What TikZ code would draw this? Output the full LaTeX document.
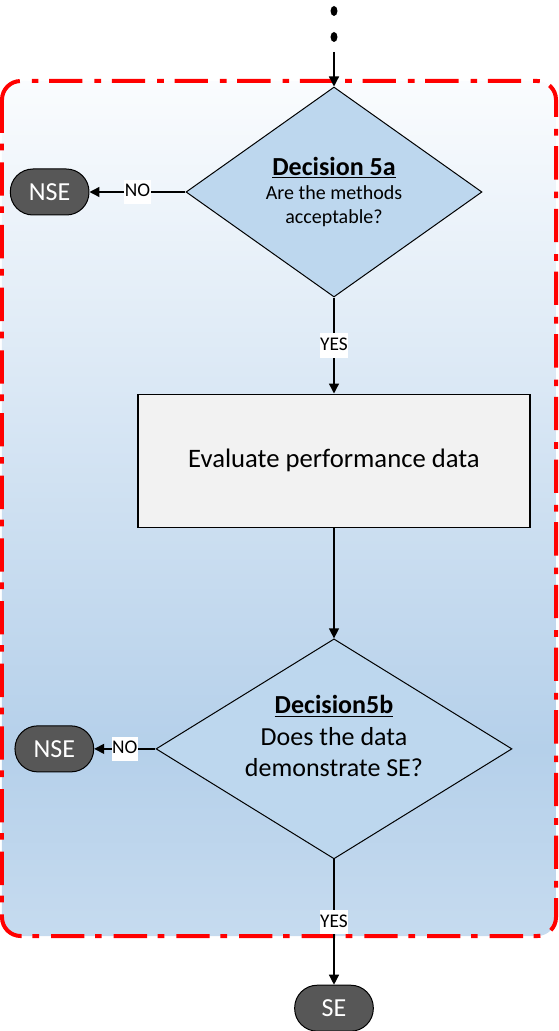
\documentclass[tikz,border=0pt]{standalone}
\usepackage{fontspec}
\setmainfont{Carlito}
\usetikzlibrary{shapes.geometric, arrows.meta, positioning, backgrounds}

\definecolor{decfill}{HTML}{BDD7EE}
\definecolor{procfill}{HTML}{F2F2F2}
\definecolor{termfill}{HTML}{575757}
\definecolor{bandred}{HTML}{FF0000}
\definecolor{bandtop}{HTML}{FAFCFE}
\definecolor{banddeep}{HTML}{B5D0EA}
\definecolor{bandlow}{HTML}{C6DBEF}

% vertical fade of the stage panel (bottom = 25bp, top = 75bp)
\pgfdeclareverticalshading{bandshade}{100bp}{color(0bp)=(bandlow); color(25bp)=(bandlow); color(36bp)=(banddeep); color(75bp)=(bandtop); color(100bp)=(bandtop)}

\begin{document}
\begin{tikzpicture}[
    node distance=72pt,
    decision/.style={diamond, draw, fill=decfill, inner sep=0pt, align=center, line width=0.75pt},
    process/.style={rectangle, draw, fill=procfill, minimum width=294pt, minimum height=99.75pt, align=center, line width=0.9pt, font=\fontsize{20}{24}\selectfont},
    terminal/.style={rectangle, rounded corners=17pt, draw, fill=termfill, text=white, minimum width=59pt, minimum height=34.5pt, line width=0.75pt, font=\fontsize{19.5}{23}\selectfont},
    arrow/.style={-{Triangle[length=7.5pt, width=7.5pt]}, line width=1pt},
    answer/.style={fill=white, inner xsep=0.5pt, inner ysep=2.5pt, text height=10.5pt, text depth=3pt, font=\fontsize{14.5}{17}\selectfont}
]
\useasboundingbox (-250.5pt,144pt) rectangle (168pt,-629.25pt);

% Decisions and evaluation step
\node[decision, minimum width=222pt, minimum height=157.5pt, aspect=1.4, font=\fontsize{15}{18}\selectfont] (dec5a) at (0,0)
    {{\fontsize{19.5}{21}\selectfont\bfseries\underline{Decision 5a}}\\Are the methods\\acceptable?};
\node[process, below=72pt of dec5a] (evaldata) {Evaluate performance data};
\node[decision, minimum width=267pt, minimum height=165pt, aspect=1.6, font=\fontsize{19.5}{23.4}\selectfont, below=83pt of evaldata] (dec5b)
    {\bfseries\underline{Decision5b}\\Does the data\\demonstrate SE?\\[-4pt]\mbox{}};

% Outcomes
\node[terminal, left=72pt of dec5a] (nse1) {NSE};
\node[terminal, left=46pt of dec5b] (nse2) {NSE};
\node[terminal, below=94pt of dec5b] (se) {SE};

% Incoming flow
\fill (0,135.75pt) ellipse (2.6pt and 3.75pt);
\fill (0,116.25pt) ellipse (2.6pt and 3.75pt);
\coordinate (entry) at (0,105pt);

% Arrows
\draw[arrow] (entry) -- (dec5a);
\draw[arrow] (dec5a) -- node[answer] {YES} (evaldata);
\draw[arrow] (dec5a) -- node[answer] {NO} (nse1);
\draw[arrow] (evaldata) -- (dec5b);
\draw[arrow] (dec5b) -- node[answer] {NO} (nse2);
\draw[arrow] (dec5b) -- node[answer] {YES} (se);

% Stage panel
\begin{scope}[on background layer]
\shade[shading=bandshade] (-249pt,83.25pt) [rounded corners=14pt] rectangle (166.5pt,-558pt);
\draw[bandred, line width=3pt, rounded corners=14pt, dash pattern=on 25pt off 8pt on 5pt off 9pt] (-249pt,83.25pt) rectangle (166.5pt,-558pt);
\end{scope}

\end{tikzpicture}
\end{document}
